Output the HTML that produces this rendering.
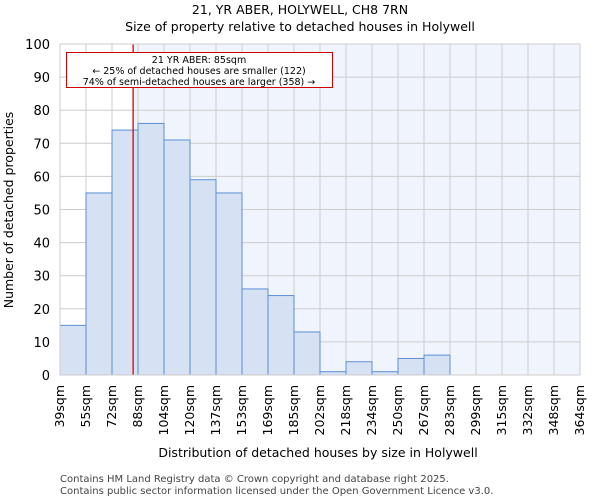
<!DOCTYPE html>
<html><head><meta charset="utf-8"><style>
body{margin:0;background:#fff;font-family:"DejaVu Sans","Liberation Sans",sans-serif;}
text{font-family:"DejaVu Sans","Liberation Sans",sans-serif;}
</style></head><body>
<svg id="chart" width="600" height="500" xmlns="http://www.w3.org/2000/svg">
<text x="300" y="14" text-anchor="middle" font-size="12.5">21, YR ABER, HOLYWELL, CH8 7RN</text>
<text x="300" y="31" text-anchor="middle" font-size="12.5">Size of property relative to detached houses in Holywell</text>
<g id="plot"></g>
<text x="318" y="457" text-anchor="middle" font-size="12.5">Distribution of detached houses by size in Holywell</text>
<text transform="translate(13,210) rotate(-90)" text-anchor="middle" font-size="12.5">Number of detached properties</text>
<text x="60" y="482" font-size="10" fill="#444">Contains HM Land Registry data © Crown copyright and database right 2025.</text>
<text x="60" y="494" font-size="10" fill="#444">Contains public sector information licensed under the Open Government Licence v3.0.</text>
</svg>
<script>
const binLabels=["39sqm","55sqm","72sqm","88sqm","104sqm","120sqm","137sqm","153sqm","169sqm","185sqm","202sqm","218sqm","234sqm","250sqm","267sqm","283sqm","299sqm","315sqm","332sqm","348sqm","364sqm"];
const counts=[15,55,74,76,71,59,55,26,24,13,1,4,1,5,6,0,0,0,0,0];
const yTicks=[0,10,20,30,40,50,60,70,80,90,100];
const markerBin=2+13/16;
const NS="http://www.w3.org/2000/svg";
const L=60,R=580,T=44,B=375,yMax=100;
const nb=counts.length;
const xs=i=>L+(R-L)*i/nb;
const ys=v=>B-(B-T)*v/yMax;
const g=document.getElementById('plot');
function mk(t,a){const e=document.createElementNS(NS,t);for(const k in a)e.setAttribute(k,a[k]);g.appendChild(e);return e;}
const mx=xs(markerBin);
let e=mk('rect',{x:L,y:T,width:R-L,height:B-T,fill:'#fff'});


e=mk('rect',{x:mx,y:T,width:R-mx,height:B-T,fill:'#f0f4fc'});


yTicks.forEach(v=>{
 const l=mk('line',{x1:L,x2:R,y1:ys(v),y2:ys(v),stroke:'#ccc','stroke-width':1});
 
 
 const t=mk('text',{x:L-10,y:ys(v)+5,'text-anchor':'end','font-size':'13'});
 t.textContent=v;
 
 
});
binLabels.forEach((s,i)=>{
 const l=mk('line',{x1:xs(i),x2:xs(i),y1:T,y2:B,stroke:'#ccc','stroke-width':1});
 
 
 const x=xs(i)+4;
 const t=mk('text',{x:x,y:B+10,'text-anchor':'end','font-size':'12.5',transform:`rotate(-90 ${x} ${B+10})`});
 t.textContent=s;
 
 
});
counts.forEach((v,i)=>{
 if(v<=0)return;
 const r=mk('rect',{x:xs(i),y:ys(v),width:xs(i+1)-xs(i),height:B-ys(v),fill:'#d6e1f3',stroke:'#5b8fd6','stroke-width':1});
 
 
});
e=mk('line',{x1:mx,x2:mx,y1:T,y2:B,stroke:'#d00','stroke-width':1.3});


e=mk('rect',{x:66.5,y:52.5,width:266,height:35,fill:'#fff',stroke:'#c00','stroke-width':1});


[["21 YR ABER: 85sqm",63],["← 25% of detached houses are smaller (122)",74],["74% of semi-detached houses are larger (358) →",85]].forEach(([s,y])=>{
 const t=mk('text',{x:199,y:y,'text-anchor':'middle','font-size':'9.5'});
 t.textContent=s;
 
 
});
e=mk('rect',{x:L,y:T,width:R-L,height:B-T,fill:'none',stroke:'#ccc'});


</script>
</body></html>
